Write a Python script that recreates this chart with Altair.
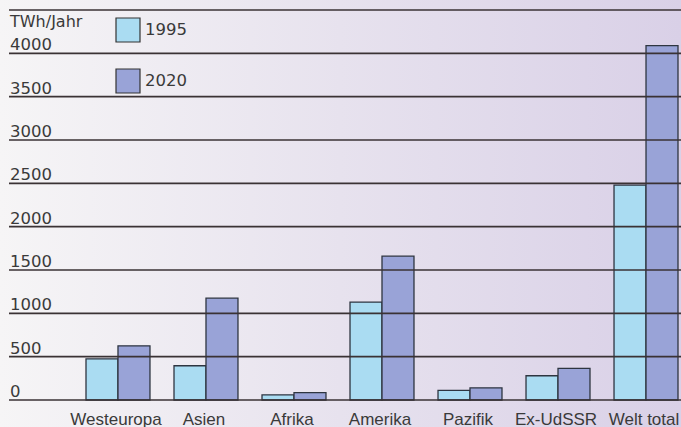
import altair as alt
import pandas as pd

regions = ["Westeuropa", "Asien", "Afrika", "Amerika", "Pazifik", "Ex-UdSSR", "Welt total"]
v1995 = [475, 395, 60, 1130, 110, 280, 2480]
v2020 = [625, 1175, 85, 1660, 140, 365, 4090]
years = ["1995", "2020"]
ticks = [0, 500, 1000, 1500, 2000, 2500, 3000, 3500, 4000, 4500]
tick_labels = ["0", "500", "1000", "1500", "2000", "2500", "3000", "3500", "4000", ""]
unit = "TWh/Jahr"
colors = ["#aadcf2", "#99a3d7"]

rows = []
for r, a, b in zip(regions, v1995, v2020):
    rows.append({"region": r, "year": years[0], "value": a})
    rows.append({"region": r, "year": years[1], "value": b})
df = pd.DataFrame(rows)
grid_df = pd.DataFrame({"v": ticks, "label": tick_labels})

FONT = "DejaVu Sans"
XFONT = "Liberation Sans"
TXT = "#3a3a3a"
W, H = 673, 390

yscale = alt.Scale(domain=[0, 4500], range=[H, 0], nice=False)

bg = alt.Chart(pd.DataFrame({"a": [0]})).mark_rect(
    color=alt.Gradient(
        gradient="linear",
        stops=[alt.GradientStop(color="#f6f5f6", offset=0),
               alt.GradientStop(color="#e7e2ee", offset=0.5),
               alt.GradientStop(color="#d9d0e7", offset=1)],
        x1=0, x2=1, y1=0, y2=0),
).encode(x=alt.value(-8), x2=alt.value(W), y=alt.value(-10), y2=alt.value(H + 27))

bars = alt.Chart(df).mark_bar(stroke="#2e3540", strokeWidth=1.3, opacity=1).encode(
    x=alt.X("region:N", sort=regions, title=None,
            scale=alt.Scale(range=[78, 670], paddingInner=0.273, paddingOuter=0),
            axis=alt.Axis(domain=False, ticks=False, grid=False, labelAngle=0,
                          labelFontSize=17, labelFont=XFONT, labelColor=TXT,
                          labelOffset=-2, labelFlush=False, labelOverlap=False,
                          labelBaseline="alphabetic", labelPadding=24, zindex=1)),
    xOffset=alt.XOffset("year:N", sort=years),
    y=alt.Y("value:Q", scale=yscale, axis=None),
    color=alt.Color("year:N", scale=alt.Scale(domain=years, range=colors),
                    legend=alt.Legend(title=None, orient="none", legendX=107, legendY=7,
                                      symbolType="square", symbolSize=576,
                                      symbolStrokeColor="#333333", symbolStrokeWidth=1.2,
                                      symbolOpacity=1, labelFontSize=16.5, labelFont=FONT,
                                      labelColor=TXT, labelOffset=4, rowPadding=21)),
)

grid = alt.Chart(grid_df).mark_rule(color="#3a3234", strokeWidth=1.6).encode(
    y=alt.Y("v:Q", scale=yscale, axis=None),
    x=alt.value(1), x2=alt.value(W),
)

labels = alt.Chart(grid_df).mark_text(
    align="left", baseline="alphabetic", dy=-3, fontSize=16.5, font=FONT, color=TXT
).encode(
    y=alt.Y("v:Q", scale=yscale, axis=None),
    x=alt.value(2),
    text="label:N",
)

unit_text = alt.Chart(pd.DataFrame({"t": [unit]})).mark_text(
    align="left", baseline="alphabetic", fontSize=16, font=FONT, color=TXT
).encode(x=alt.value(2), y=alt.value(17), text="t:N")

chart = alt.layer(bg, bars, grid, labels, unit_text).properties(
    width=W, height=H,
    autosize=alt.AutoSizeParams(type="none"),
    padding={"left": 8, "top": 10, "right": 0, "bottom": 27},
).configure_view(stroke=None).configure(background="#f4f2f5")

chart.save("out.html", embed_options={"renderer": "svg", "actions": False})
